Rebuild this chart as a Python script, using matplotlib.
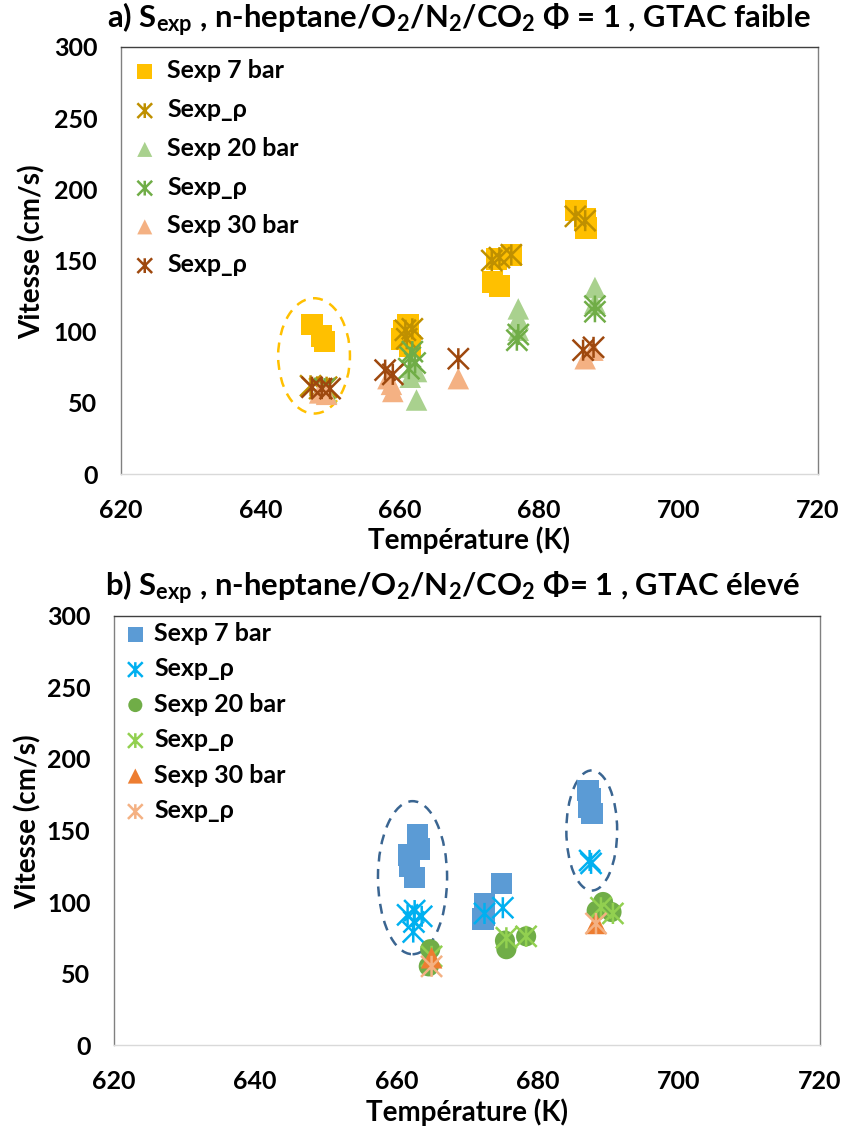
import numpy as np
import matplotlib
matplotlib.use("Agg")
import matplotlib.pyplot as plt
from matplotlib.path import Path
from matplotlib.patches import Ellipse

plt.rcParams['font.family'] = ['Lato', 'DejaVu Sans']
plt.rcParams['font.weight'] = 'bold'
plt.rcParams['mathtext.fontset'] = 'custom'
plt.rcParams['mathtext.rm'] = 'Lato:bold'
plt.rcParams['mathtext.bf'] = 'Lato:bold'
plt.rcParams['mathtext.it'] = 'Lato:bold:italic'

# panel a - GTAC faible
a_t7 = [647.4, 648.8, 649.2, 660.5, 661.2, 660.3, 661.5, 673.3, 674.3, 673.9, 676.0, 685.3, 686.6, 686.7]
a_s7 = [105, 97, 93, 101, 105, 95, 90, 135, 132, 151, 154, 185, 179, 173]
a_t7r = [647.2, 648.5, 649.5, 660.8, 661.8, 661.0, 673.2, 674.3, 676.0, 685.2, 686.6]
a_s7r = [62, 60, 61, 101, 102, 95, 150, 152, 154, 181, 178]
a_t20 = [649.5, 661.5, 662.4, 662.4, 661.8, 677.0, 677.0, 677.0, 688.0, 688.0]
a_s20 = [57, 68, 72, 52, 75, 116, 109, 101, 131, 120]
a_t20r = [649.2, 661.5, 662.2, 661.8, 661.3, 677.0, 676.8, 688.0, 688.0]
a_s20r = [60, 82, 78, 86, 74, 98, 94, 118, 114]
a_t30 = [648.5, 649.5, 658.3, 659.0, 658.8, 668.4, 686.6, 687.7]
a_s30 = [57, 56, 67, 58, 63, 67, 81, 87]
a_t30r = [647.4, 648.8, 650.0, 657.9, 659.0, 668.4, 686.3, 687.8]
a_s30r = [61, 60, 60, 73, 70, 81, 87, 89]

# panel b - GTAC eleve
b_t7 = [663.0, 663.3, 661.7, 661.9, 662.6, 674.9, 672.5, 672.5, 672.3, 687.2, 687.5, 687.3, 687.7]
b_s7 = [147, 137, 133, 125, 117, 113, 99, 91, 88, 178, 172, 166, 162]
b_t7r = [662.6, 662.5, 662.4, 661.6, 663.6, 672.5, 675.1, 687.4, 687.6]
b_s7r = [94, 86, 79, 91, 90, 92, 96, 129, 127]
b_t20 = [664.8, 664.6, 675.6, 678.4, 675.4, 689.3, 688.4, 690.5]
b_s20 = [67, 55, 67, 76, 73, 100, 94, 93]
b_t20r = [665.0, 675.6, 678.4, 689.0, 690.7]
b_s20r = [62, 75, 76, 96, 92]
b_t30 = [665.0, 688.3]
b_s30 = [61, 85]
b_t30r = [665.0, 688.3]
b_s30r = [55, 85]

labels = ['Sexp 7 bar', 'Sexp_ρ', 'Sexp 20 bar', 'Sexp_ρ', 'Sexp 30 bar', 'Sexp_ρ']
xticks = [620, 640, 660, 680, 700, 720]
yticks = [0, 50, 100, 150, 200, 250, 300]

STAR = Path([(-1, -1), (1, 1), (-1, 1), (1, -1), (0, -1), (0, 1)],
            [Path.MOVETO, Path.LINETO, Path.MOVETO, Path.LINETO, Path.MOVETO, Path.LINETO])


def style_axes(ax, ylab_x, xlab_y):
    """Excel-like frame, ticks and labels"""
    ax.set_xlim(620, 720)
    ax.set_ylim(0, 300)
    ax.set_xticks(xticks)
    ax.set_yticks(yticks)
    ax.tick_params(length=0, labelsize=18)
    ax.tick_params(axis='y', pad=17)
    ax.tick_params(axis='x', pad=18)
    for lab in ax.get_xticklabels() + ax.get_yticklabels():
        lab.set_fontweight('bold')
    ax.spines['top'].set_color('#404040')
    ax.spines['right'].set_color('#808080')
    ax.spines['left'].set_color('#808080')
    ax.spines['bottom'].set_color('#d9d9d9')
    for s in ax.spines.values():
        s.set_linewidth(1.0)
    ax.set_xlabel('Température (K)', fontsize=20, fontweight='bold')
    ax.set_ylabel('Vitesse (cm/s)', fontsize=20, fontweight='bold')
    ax.xaxis.set_label_coords(0.5, xlab_y)
    ax.yaxis.set_label_coords(ylab_x, 0.52)


def draw(ax, series, colors, markers, sizes):
    for (t, s), c, m, sz, lab in zip(series, colors, markers, sizes, labels):
        if m is STAR:
            ax.scatter(t, s, marker=m, s=sz, facecolors='none', edgecolors=c,
                       linewidths=1.8, label=lab, zorder=3)
        else:
            ax.scatter(t, s, marker=m, s=sz, color=c, edgecolors='none', label=lab, zorder=3)


fig = plt.figure(figsize=(8.45, 11.26), dpi=100)

ax1 = fig.add_axes([0.1432, 0.579, 0.8248, 0.3793])
draw(ax1,
     [(a_t7, a_s7), (a_t7r, a_s7r), (a_t20, a_s20), (a_t20r, a_s20r), (a_t30, a_s30), (a_t30r, a_s30r)],
     ['#FFC000', '#BF9000', '#A9D18E', '#70AD47', '#F4B183', '#9E480E'],
     ['s', STAR, '^', STAR, '^', STAR],
     [240, 230, 240, 230, 240, 230])
ax1.add_patch(Ellipse((647.7, 83), 10.3, 81, fill=False, ec='#FFC000', lw=1.8, ls=(0, (4, 3))))
style_axes(ax1, -0.108, -0.122)
ax1.legend(loc='upper left', bbox_to_anchor=(0.0, 1.0), frameon=False,
           labelspacing=0.63, handletextpad=0.45, handlelength=0.9, borderaxespad=0.1,
           markerscale=0.7, prop={'weight': 'bold', 'size': 18})
fig.text(0.543, 0.982, r'a) S$_{\mathrm{exp}}$ , n-heptane/O$_{\mathrm{2}}$/N$_{\mathrm{2}}$/CO$_{\mathrm{2}}$ Φ = 1 , GTAC faible',
         ha='center', va='center', fontsize=22.3)

ax2 = fig.add_axes([0.135, 0.0719, 0.835, 0.3811])
draw(ax2,
     [(b_t7, b_s7), (b_t7r, b_s7r), (b_t20, b_s20), (b_t20r, b_s20r), (b_t30, b_s30), (b_t30r, b_s30r)],
     ['#5B9BD5', '#00B0F0', '#70AD47', '#92D050', '#ED7D31', '#F4B183'],
     ['s', STAR, 'o', STAR, '^', STAR],
     [240, 230, 210, 230, 240, 230])
ax2.add_patch(Ellipse((662.3, 117), 9.8, 107, fill=False, ec='#3A6591', lw=1.8, ls=(0, (4, 3))))
ax2.add_patch(Ellipse((687.7, 150), 7.2, 84, fill=False, ec='#3A6591', lw=1.8, ls=(0, (4, 3))))
style_axes(ax2, -0.102, -0.125)
ax2.legend(loc='upper left', bbox_to_anchor=(0.0, 1.01), frameon=False,
           labelspacing=0.5, handletextpad=0.3, handlelength=0.9, borderaxespad=0.0,
           markerscale=0.7, prop={'weight': 'bold', 'size': 18})
fig.text(0.536, 0.478, r'b) S$_{\mathrm{exp}}$ , n-heptane/O$_{\mathrm{2}}$/N$_{\mathrm{2}}$/CO$_{\mathrm{2}}$ Φ= 1 , GTAC élevé',
         ha='center', va='center', fontsize=22.3)

fig.savefig('out.png', dpi=100)
